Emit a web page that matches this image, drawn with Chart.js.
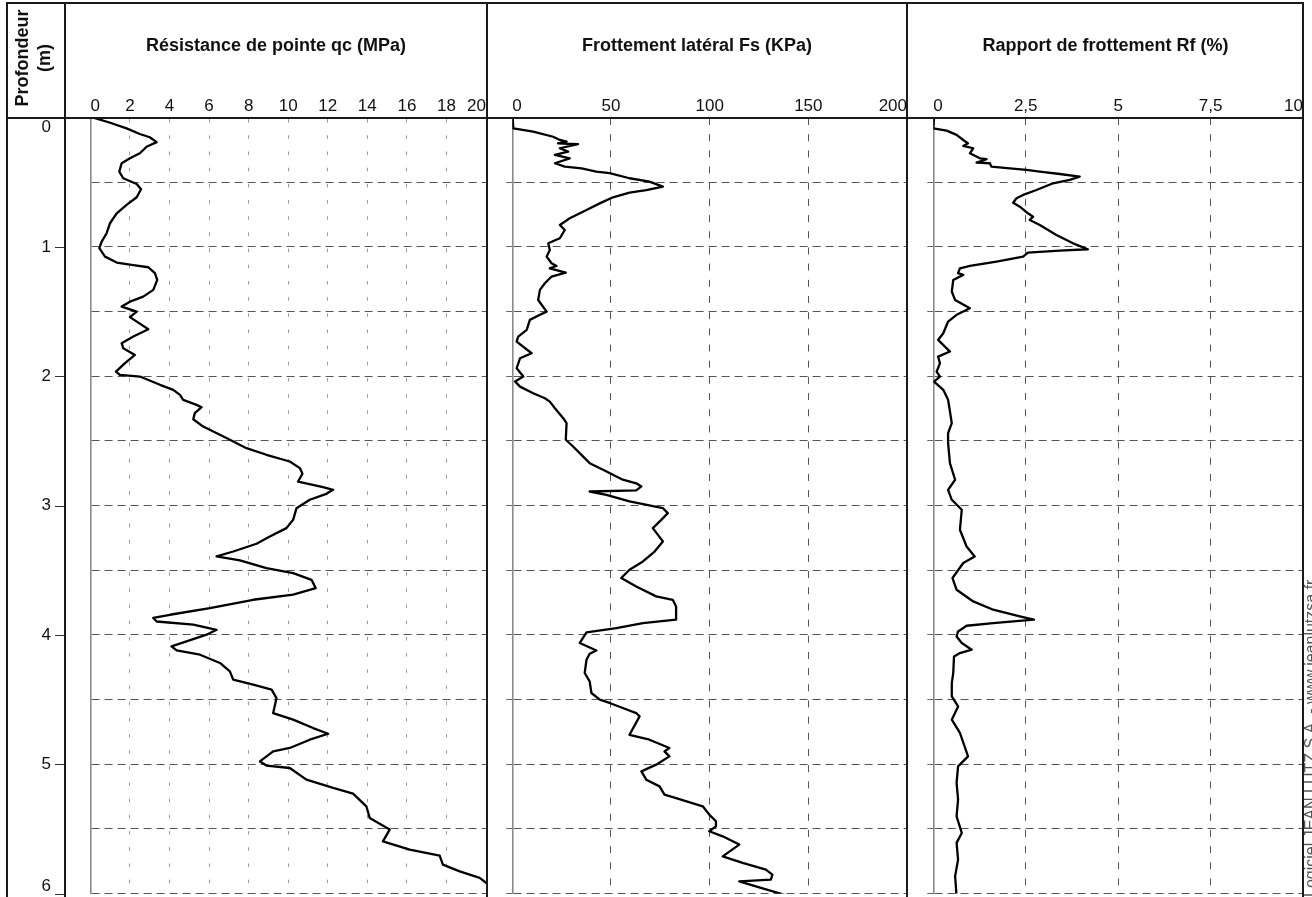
<!DOCTYPE html>
<html><head><meta charset="utf-8">
<script src="https://cdn.jsdelivr.net/npm/chart.js@4"></script>
<style>
html,body{margin:0;padding:0;background:#fff;}
#page{position:relative;width:1312px;height:897px;overflow:hidden;background:#fff;font-family:"Liberation Sans",Arial,sans-serif;color:#111;}
canvas{position:absolute;top:0;}
.ln{position:absolute;background:#1a1a1a;}
.title{position:absolute;top:34px;font-weight:bold;font-size:18px;line-height:22px;text-align:center;white-space:nowrap;}
#prof{position:absolute;left:-23px;top:36px;width:112px;height:44px;transform:rotate(-90deg);transform-origin:50% 50%;font-weight:bold;font-size:18px;line-height:22px;text-align:center;}
#wm{position:absolute;left:1303px;top:897px;transform-origin:0 0;transform:rotate(-90deg);font-size:16px;line-height:15px;color:#555;white-space:nowrap;}
</style></head><body>
<div id="page">
 <canvas id="c1" width="487" height="897" style="left:0px"></canvas>
 <canvas id="c2" width="421" height="897" style="left:487px"></canvas>
 <canvas id="c3" width="397" height="897" style="left:907px"></canvas>
 <div class="ln" style="left:6px;top:2px;width:1298px;height:2px"></div>
 <div class="ln" style="left:6px;top:116.6px;width:1298px;height:2px"></div>
 <div class="ln" style="left:5.5px;top:2px;width:2px;height:895px"></div>
 <div class="ln" style="left:64px;top:2px;width:1.6px;height:895px"></div>
 <div class="ln" style="left:486px;top:2px;width:2px;height:895px"></div>
 <div class="ln" style="left:906px;top:2px;width:2px;height:895px"></div>
 <div class="ln" style="left:1302px;top:2px;width:2px;height:895px"></div>
 <div id="prof">Profondeur<br>(m)</div>
 <div class="title" style="left:65px;width:422px">Résistance de pointe qc (MPa)</div>
 <div class="title" style="left:487px;width:420px">Frottement latéral Fs (KPa)</div>
 <div class="title" style="left:907px;width:397px">Rapport de frottement Rf (%)</div>
 <div id="wm">Logiciel JEAN LUTZ S.A. - www.jeanlutzsa.fr</div>
</div>
<script>
// ---------- DATA ----------
const depthTicks = [0, 1, 2, 3, 4, 5, 6];
const depthTickLabels = ['0', '1', '2', '3', '4', '5', '6'];
const qcTickLabels = ['0', '2', '4', '6', '8', '10', '12', '14', '16', '18', '20'];
const fsTickLabels = ['0', '50', '100', '150', '200'];
const rfTickLabels = ['0', '2,5', '5', '7,5', '10'];

const qcDepth = [0,0.04,0.083,0.127,0.152,0.19,0.225,0.276,0.315,0.353,0.418,0.469,0.513,0.554,0.616,0.675,0.74,0.817,0.894,0.959,
1.01,1.075,1.121,1.139,1.157,1.203,1.255,1.332,1.384,1.423,1.461,1.5,1.543,1.636,1.693,1.744,1.783,1.835,1.899,1.964,
1.989,2.002,2.066,2.105,2.144,2.182,2.221,2.239,2.285,2.332,2.389,2.478,2.556,2.607,2.659,2.71,2.754,2.814,2.857,2.878,
2.909,2.955,3.02,3.11,3.174,3.239,3.295,3.355,3.393,3.424,3.483,3.522,3.574,3.638,3.689,3.728,3.792,3.844,3.869,3.896,
3.921,3.96,3.998,4.05,4.089,4.12,4.153,4.217,4.282,4.346,4.385,4.423,4.488,4.604,4.655,4.72,4.764,4.81,4.874,4.9,
4.978,5.01,5.029,5.119,5.183,5.227,5.325,5.415,5.505,5.596,5.66,5.706,5.776,5.828,5.879,5.95,6.0];
const qcValue = [0.15,1.0,1.83,2.5,3.0,3.35,2.84,2.5,2.0,1.58,1.46,1.66,2.34,2.56,2.34,1.83,1.33,0.99,0.82,0.57,
0.45,0.74,1.33,2.08,2.93,3.26,3.38,3.18,2.67,2.0,1.58,2.34,2.0,2.93,2.17,1.58,1.66,2.25,1.75,1.29,
1.49,2.5,3.52,4.19,4.53,4.69,5.37,5.62,5.28,5.2,5.7,6.88,7.89,8.9,10.08,10.59,10.72,10.5,11.76,12.27,
11.93,11.09,10.42,10.25,9.91,9.07,8.4,7.22,6.38,7.56,8.9,10.25,11.18,11.39,10.25,8.23,6.04,4.02,3.18,3.35,
5.2,6.38,5.87,4.86,4.1,4.36,5.54,6.55,7.05,7.22,8.23,9.16,9.41,9.24,10.25,11.26,12.02,11.09,10.08,9.24,
8.57,8.9,10.08,10.92,12.27,13.28,13.95,14.12,15.13,14.79,16.14,17.66,17.82,18.67,19.68,20.3,20.6];

const fsDepth = [0,0.083,0.109,0.148,0.173,0.186,0.199,0.206,0.237,0.263,0.289,0.315,0.353,0.379,0.392,0.418,0.43,0.469,0.495,0.534,
0.56,0.58,0.616,0.663,0.714,0.778,0.83,0.869,0.933,0.972,1.023,1.075,1.126,1.147,1.165,1.199,1.229,1.281,1.332,1.41,
1.5,1.525,1.564,1.641,1.693,1.732,1.822,1.861,1.938,2.002,2.041,2.08,2.131,2.17,2.196,2.247,2.324,2.362,2.491,2.543,
2.672,2.723,2.8,2.828,2.852,2.883,2.891,2.917,2.968,3.02,3.058,3.11,3.174,3.277,3.355,3.432,3.496,3.56,3.625,3.702,
3.728,3.78,3.882,3.908,3.947,3.98,4.062,4.12,4.145,4.192,4.294,4.359,4.449,4.5,4.526,4.565,4.604,4.63,4.772,4.81,
4.874,4.9,4.939,5.003,5.055,5.119,5.171,5.235,5.261,5.325,5.389,5.441,5.48,5.518,5.557,5.621,5.712,5.763,5.814,5.853,
5.892,5.905,5.944,6.02];
const fsValue = [0.2,0.5,10.6,20.7,24.1,27.5,23.2,33.3,24.1,28.3,21.6,29.1,21.6,26.6,35.1,42.6,49.3,59.4,69.5,76.3,
67.9,59.4,51.0,44.3,37.6,29.1,24.1,26.6,24.1,18.2,19.0,17.4,19.9,22.4,19.0,27.1,19.9,16.5,14.0,13.1,
17.4,14.0,8.9,7.3,3.0,2.2,9.8,3.9,2.2,5.6,1.4,3.9,10.6,16.5,19.0,21.6,25.8,27.5,27.1,30.8,
39.2,46.0,56.0,62.8,65.4,62.8,39.2,47.7,59.4,76.3,78.8,75.5,71.2,76.3,72.1,66.2,59.4,55.2,62.8,72.9,
81.3,83.0,83.0,66.2,52.7,37.6,34.2,42.6,39.2,37.6,36.7,39.2,40.1,44.3,49.3,56.0,62.8,64.5,59.4,69.5,
79.6,77.1,79.6,72.9,65.4,67.9,74.6,77.1,83.0,96.5,99.8,103.2,103.2,99.8,106.6,115.0,106.6,116.7,128.5,131.8,
131.0,115.0,123.4,140.3];

const rfDepth = [0,0.083,0.101,0.134,0.173,0.199,0.219,0.237,0.276,0.315,0.322,0.348,0.353,0.379,0.392,0.405,0.418,0.436,0.457,0.482,
0.508,0.56,0.598,0.624,0.658,0.689,0.74,0.766,0.791,0.83,0.907,0.972,1.018,1.029,1.044,1.075,1.113,1.147,1.165,1.203,
1.216,1.255,1.345,1.41,1.474,1.525,1.577,1.667,1.719,1.809,1.848,1.899,1.964,2.002,2.041,2.105,2.182,2.362,2.44,2.517,
2.672,2.8,2.878,2.955,3.032,3.187,3.316,3.393,3.444,3.56,3.651,3.741,3.805,3.857,3.882,3.908,3.929,3.973,4.012,4.063,
4.114,4.14,4.166,4.294,4.372,4.475,4.553,4.655,4.758,4.939,5.016,5.144,5.274,5.403,5.531,5.608,5.737,5.866,6.02];
const rfValue = [0.02,0.0,0.36,0.63,0.81,0.94,0.81,1.08,0.99,1.26,1.44,1.17,1.53,1.57,2.07,2.52,2.88,3.42,3.96,3.69,
3.24,2.79,2.43,2.25,2.16,2.34,2.56,2.7,2.61,2.88,3.33,3.78,4.18,3.42,2.56,2.43,1.71,0.99,0.72,0.67,
0.81,0.54,0.5,0.59,0.99,0.63,0.4,0.27,0.13,0.45,0.13,0.18,0.09,0.18,0.02,0.27,0.4,0.5,0.4,0.4,
0.45,0.59,0.4,0.5,0.77,0.72,0.9,1.12,0.81,0.52,0.63,1.08,1.62,2.34,2.72,1.62,0.9,0.67,0.63,0.77,
1.04,0.72,0.56,0.54,0.5,0.5,0.67,0.5,0.72,0.94,0.67,0.63,0.67,0.63,0.77,0.63,0.67,0.59,0.63];

// ---------- CHARTS ----------
const FONT = '"Liberation Sans", Arial, sans-serif';
const TRANSPARENT = 'rgba(0,0,0,0)';

const depthAxisPlugin = {
  id: 'depthAxis',
  afterDraw(chart) {
    const ys = chart.scales.y, ctx = chart.ctx;
    ctx.save();
    ctx.font = '17px ' + FONT;
    ctx.fillStyle = '#111';
    ctx.textAlign = 'right';
    ctx.textBaseline = 'middle';
    ctx.strokeStyle = '#333';
    ctx.lineWidth = 1;
    depthTicks.forEach((v, i) => {
      const y = ys.getPixelForValue(v);
      const ty = Math.min(Math.max(y, ys.top + 10), ys.bottom - 7);
      ctx.fillText(depthTickLabels[i], 51, ty);
      ctx.beginPath();
      ctx.moveTo(55, Math.round(y) + 0.5);
      ctx.lineTo(65, Math.round(y) + 0.5);
      ctx.stroke();
    });
    ctx.restore();
  }
};

function makePanel(id, depth, values, xMax, step, tickLabels, yWidth, yTickLen, vGrid, plugins) {
  new Chart(document.getElementById(id), {
    type: 'line',
    data: {
      datasets: [{
        data: depth.map((d, i) => ({ x: values[i], y: d })),
        borderColor: '#000',
        borderWidth: 2.3,
        pointRadius: 0,
        tension: 0,
        fill: false,
        borderJoinStyle: 'round',
        borderCapStyle: 'round'
      }]
    },
    options: {
      indexAxis: 'y',
      responsive: false,
      animation: false,
      events: [],
      layout: { padding: { top: 0, left: 0, right: 0, bottom: 3.4 } },
      plugins: { legend: { display: false }, tooltip: { enabled: false }, title: { display: false } },
      scales: {
        x: {
          type: 'linear', position: 'top', min: 0, max: xMax,
          afterFit: s => { s.height = 117.6; },
          ticks: {
            stepSize: step, align: 'inner', padding: 1, autoSkip: false, maxRotation: 0,
            color: '#111', font: { family: FONT, size: 17 },
            callback: (v, i) => tickLabels[i]
          },
          grid: {
            drawTicks: false, lineWidth: 1,
            color: c => (c.tick && (c.tick.value === 0 || c.tick.value === xMax)) ? TRANSPARENT : vGrid.color
          },
          border: { display: false, dash: vGrid.dash, dashOffset: vGrid.offset }
        },
        y: {
          type: 'linear', min: 0, max: 6, reverse: true,
          afterFit: s => { s.width = yWidth; },
          ticks: { display: false, stepSize: 0.5 },
          grid: {
            lineWidth: 1, drawTicks: yTickLen > 0, tickLength: yTickLen, tickColor: '#666', tickWidth: 1, tickBorderDash: [],
            color: c => (c.tick && c.tick.value === 0) ? TRANSPARENT : '#555'
          },
          border: { display: true, color: '#8a8a8a', width: 1.6, dash: [8, 5] }
        }
      }
    },
    plugins: plugins || []
  });
}

makePanel('c1', qcDepth, qcValue, 20, 2, qcTickLabels, 90.4, 0, { color: '#9a9a9a', dash: [3.5, 12.68], offset: 15 }, [depthAxisPlugin]);
makePanel('c2', fsDepth, fsValue, 200, 50, fsTickLabels, 25.3, 6, { color: '#555', dash: [7, 9.18], offset: 0 });
makePanel('c3', rfDepth, rfValue, 10, 2.5, rfTickLabels, 26.3, 6, { color: '#555', dash: [7, 9.18], offset: 0 });
</script>
</body></html>
